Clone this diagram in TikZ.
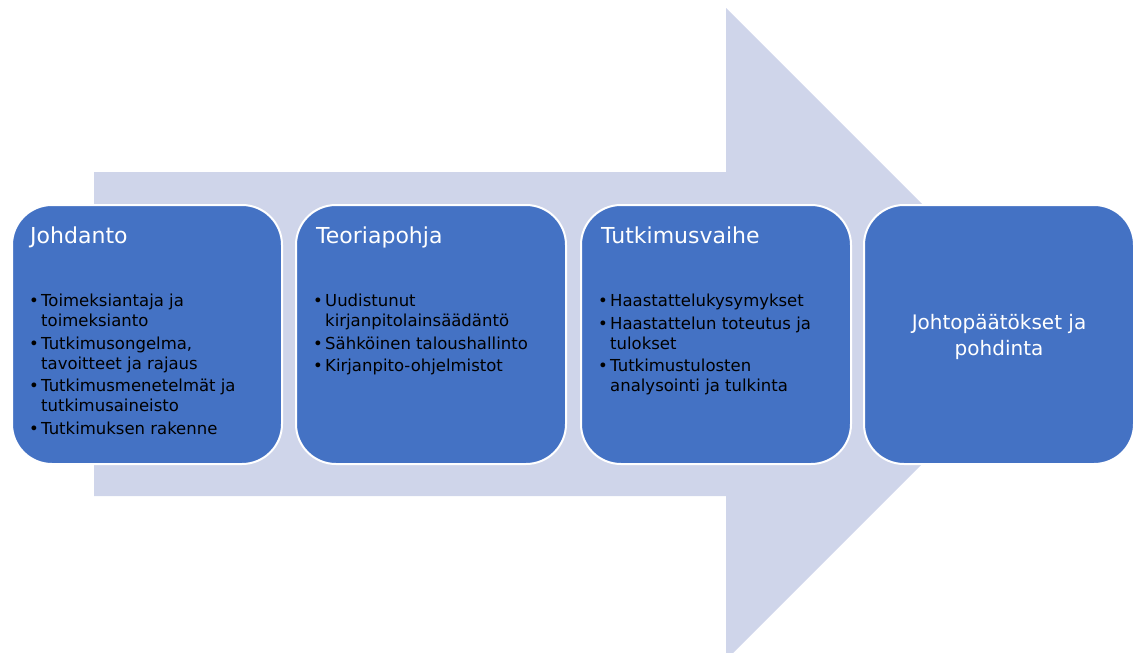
\documentclass[tikz,border=0pt]{standalone}
\usepackage{fontspec}
\setmainfont{DejaVu Sans}
\definecolor{boxblue}{HTML}{4472C4}
\definecolor{arrowgray}{HTML}{CFD5EA}
\newcommand\myb{\makebox[12pt][l]{•}}
\newcommand\myi{\hspace*{12pt}}
\begin{document}
\begin{tikzpicture}[x=1pt,y=-1pt,
  stage/.style={draw=white, line width=2pt, fill=boxblue, rounded corners=40pt,
    anchor=north west, inner sep=0pt, minimum width=270pt, minimum height=259pt},
  title/.style={text=white, font=\fontsize{22}{26}\selectfont, anchor=base west, inner sep=0pt},
  body/.style={text=black, font=\fontsize{16.5}{20}\selectfont, align=left, anchor=north west, inner sep=0pt},
  final/.style={text=white, font=\fontsize{20}{26}\selectfont, align=center, inner sep=0pt}]
\useasboundingbox (0,0) rectangle (1133,653);
\fill[arrowgray] (94,172) -- (726,172) -- (726,8) -- (1052,334) -- (726,660) -- (726,496) -- (94,496) -- cycle;

\node[stage] (b1) at (11,204) {};
\node[stage] (b2) at (295,204) {};
\node[stage] (b3) at (580,204) {};
\node[stage] (b4) at (863,204) {};

\node[title] (t1) at (30,243) {Johdanto};
\node[title] (t2) at (316,243) {Teoriapohja};
\node[title] (t3) at (601,243) {Tutkimusvaihe};

\node[body] (l1) at (29,294) {\myb Toimeksiantaja ja\\ \myi toimeksianto\\[2.5pt]
\myb Tutkimusongelma,\\ \myi tavoitteet ja rajaus\\[2.5pt]
\myb Tutkimusmenetelmät ja\\ \myi tutkimusaineisto\\[2.5pt]
\myb Tutkimuksen rakenne};

\node[body] (l2) at (313,294) {\myb Uudistunut\\ \myi kirjanpitolainsäädäntö\\[2.5pt]
\myb Sähköinen taloushallinto\\[2.5pt]
\myb Kirjanpito-ohjelmistot};

\node[body] (l3) at (598,294) {\myb Haastattelukysymykset\\[2.5pt]
\myb Haastattelun toteutus ja\\ \myi tulokset\\[2.5pt]
\myb Tutkimustulosten\\ \myi analysointi ja tulkinta};

\node[final] (t4) at ([yshift=-2pt]b4.center) {Johtopäätökset ja\\pohdinta};
\end{tikzpicture}
\end{document}
